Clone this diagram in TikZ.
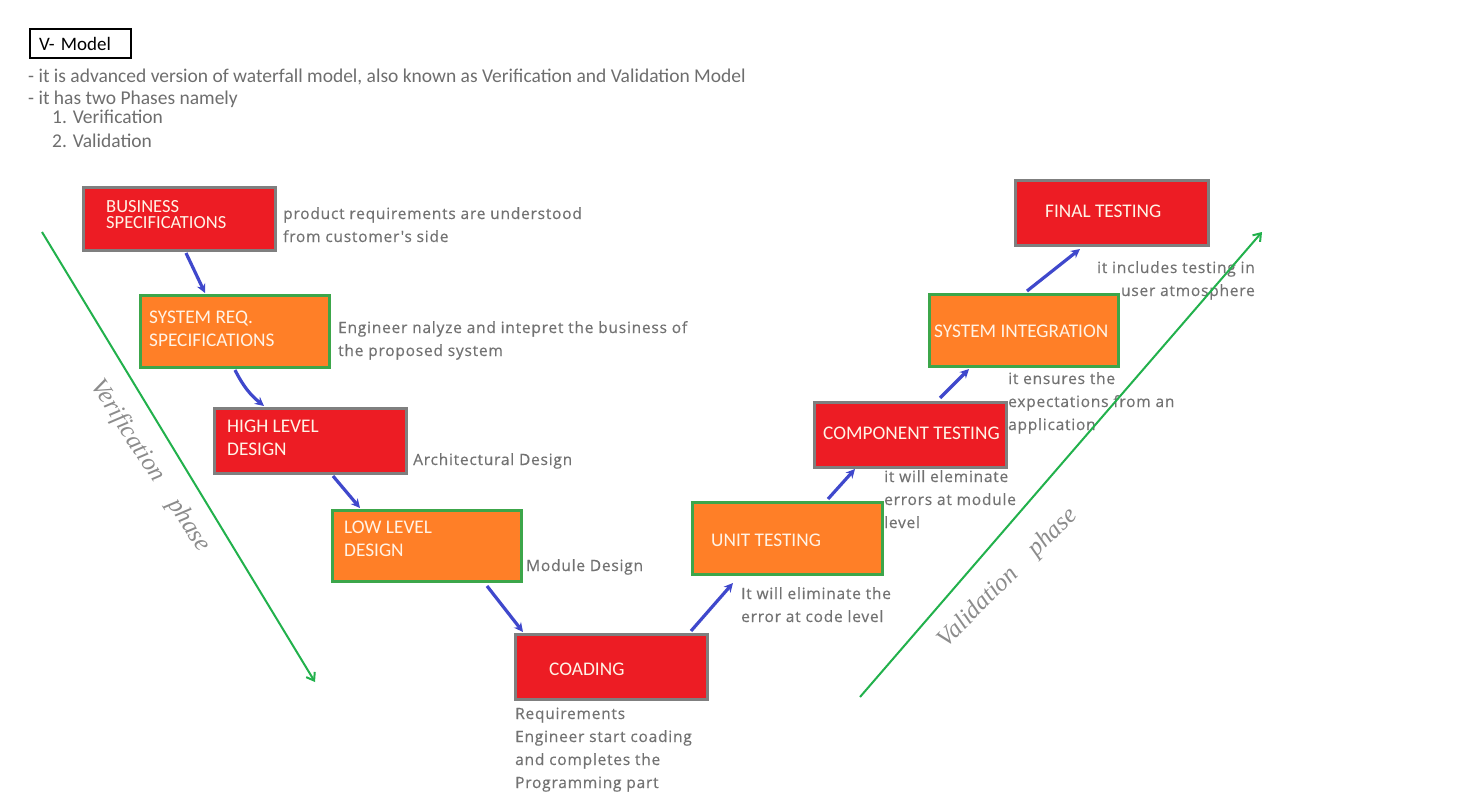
\documentclass[tikz,border=0pt]{standalone}
\usepackage{fontspec}
\setmainfont{Carlito}
\newfontfamily\descfont[LetterSpace=5,FakeBold=0.4]{Open Sans}
\newfontfamily\handfont{Liberation Serif}
\usetikzlibrary{arrows.meta,calc}
\definecolor{vred}{HTML}{ED1C24}
\definecolor{vorange}{HTML}{FF7F27}
\definecolor{vgreen}{HTML}{22B14C}
\definecolor{bgreen}{HTML}{3CA64A}
\definecolor{vgray}{HTML}{7F7F7F}
\definecolor{vblue}{HTML}{3F48CC}
\definecolor{txtgray}{HTML}{727272}
\definecolor{hdrgray}{HTML}{6E6E6E}
\definecolor{boxtxt}{HTML}{FFF3E6}
\definecolor{handgray}{HTML}{8C8C8C}
\begin{document}
\begin{tikzpicture}[x=1pt,y=-1pt,
 redbox/.style={draw=vgray, fill=vred, line width=3pt, anchor=north west, inner sep=0pt},
 orangebox/.style={draw=bgreen, fill=vorange, line width=3pt, anchor=north west, inner sep=0pt},
 boxlabel/.style={text=boxtxt, font=\fontsize{19.3}{23}\selectfont, align=left, anchor=west, inner sep=0pt},
 desc/.style={text=txtgray, font=\descfont\fontsize{15.5}{23}\selectfont, align=left, anchor=base west, inner sep=0pt},
 hdr/.style={text=hdrgray, font=\fontsize{19.5}{20}\selectfont, anchor=base west, inner sep=0pt},
 flow/.style={draw=vblue, line width=3.2pt, -{Stealth[length=9pt,width=9pt]}},
 phase/.style={draw=vgreen, line width=2pt, -{Straight Barb[length=7pt,width=10pt]}},
 hand/.style={text=handgray, font=\handfont\itshape\fontsize{25}{25}\selectfont, inner sep=0pt},
]
\useasboundingbox[fill=white] (0,0) rectangle (1484,800);

% title
\node[draw=black, line width=2pt, anchor=north west, minimum width=101, minimum height=29,
      text width=82, inner xsep=9.5pt, align=left, font=\fontsize{19}{20}\selectfont] (title) at (28.5,28.5) {V- Model};
\node[hdr] (h1) at (28,82) {- it is advanced version of waterfall model, also known as Verification and Validation Model};
\node[hdr] (h2) at (28,105) {- it has two Phases namely};
\node[hdr] (h3) at (52,124) {1. Verification};
\node[hdr] (h4) at (52,147) {2. Validation};

% boxes
\node[redbox, minimum width=192, minimum height=63] (b1) at (82,186) {};
\node[orangebox, minimum width=189, minimum height=72] (b2) at (139,294) {};
\node[redbox, minimum width=192, minimum height=65] (b3) at (213,407) {};
\node[orangebox, minimum width=189, minimum height=71] (b4) at (331,509) {};
\node[redbox, minimum width=192, minimum height=65] (b5) at (514,633) {};
\node[orangebox, minimum width=190, minimum height=72] (b6) at (691,501) {};
\node[redbox, minimum width=192, minimum height=65] (b7) at (813,401) {};
\node[orangebox, minimum width=189, minimum height=72] (b8) at (928,293) {};
\node[redbox, minimum width=193, minimum height=65] (b9) at (1014,179) {};

% box labels
\node[boxlabel, font=\fontsize{18.5}{16}\selectfont] (t1) at ($(b1.west)+(24,-4.5)$) {BUSINESS\\SPECIFICATIONS};
\node[boxlabel] (t2) at ($(b2.west)+(10,-2.5)$) {SYSTEM REQ.\\SPECIFICATIONS};
\node[boxlabel] (t3) at ($(b3.west)+(14,-3)$) {HIGH LEVEL\\DESIGN};
\node[boxlabel] (t4) at ($(b4.west)+(13,-7)$) {LOW LEVEL\\DESIGN};
\node[boxlabel] (t5) at ($(b5.west)+(35,2.5)$) {COADING};
\node[boxlabel] (t6) at ($(b6.west)+(20,2)$) {UNIT TESTING};
\node[boxlabel] (t7) at ($(b7.west)+(10,-1.5)$) {COMPONENT TESTING};
\node[boxlabel] (t8) at ($(b8.west)+(6,1)$) {SYSTEM INTEGRATION};
\node[boxlabel] (t9) at ($(b9.west)+(31,-1.5)$) {FINAL TESTING};

% descriptions (anchored at the baseline of the last line)
\node[desc] (d1) at (283,242) {product requirements are understood\\from customer's side};
\node[desc] (d2) at (338,356) {Engineer nalyze and intepret the business of\\the proposed system};
\node[desc] (d3) at (413,465) {Architectural Design};
\node[desc] (d4) at (526,571) {Module Design};
\node[desc] (d5) at (515,788) {Requirements\\Engineer start coading\\and completes the\\Programming part};
\node[desc] (d6) at (741,622) {It will eliminate the\\error at code level};
\node[desc] (d7) at (884,528) {it will eleminate\\errors at module\\level};
\node[desc] (d8) at (1008,430) {it ensures the\\expectations from an\\application};
\node[desc, anchor=base east, align=right] (d9) at (1255,296) {it includes testing in\\user atmosphere};

% flow arrows
\draw[flow] ($(b1.south west)+(104,1)$) -- ($(b2.north west)+(66,-1)$);
\draw[flow] ($(b2.south west)+(96,1)$) to[bend right=12] ($(b3.north west)+(51,-1)$);
\draw[flow] ($(b3.south west)+(120,1)$) -- ($(b4.north west)+(29,-1)$);
\draw[flow] ($(b4.south west)+(156,3)$) -- ($(b5.north west)+(9,-1)$);
\draw[flow] ($(b5.north west)+(177,-2)$) -- ($(b6.south west)+(42,7)$);
\draw[flow] ($(b6.north west)+(137,-2)$) -- ($(b7.south west)+(42,0)$);
\draw[flow] ($(b7.north west)+(127,-3)$) -- ($(b8.south west)+(41,1)$);
\draw[flow] ($(b8.north west)+(99,-2)$) -- ($(b9.south west)+(66,2)$);

% phase arrows
\coordinate (v1) at (42,232);
\coordinate (v2) at (315,682);
\coordinate (w1) at (860,697);
\coordinate (w2) at (1262,232);
\draw[phase] (v1) -- (v2);
\draw[phase] (w1) -- (w2);
\node[hand, rotate=-57] (vp) at (150,466) {Verification\quad phase};
\node[hand, rotate=45] (wp) at (1008,578) {Validation\quad phase};
\end{tikzpicture}
\end{document}
